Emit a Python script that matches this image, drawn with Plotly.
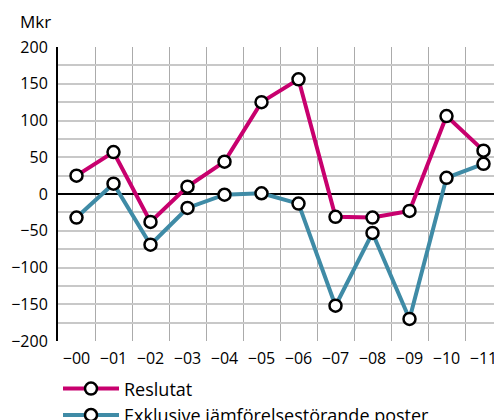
import plotly.graph_objects as go

categories = ["−00", "−01", "−02", "−03", "−04", "−05", "−06", "−07", "−08", "−09", "−10", "−11"]
reslutat = [25, 57, -38, 10, 44, 125, 156, -31, -32, -23, 106, 59]
exklusive = [-32, 14, -69, -19, -1, 1, -13, -152, -53, -170, 22, 41]
y_ticks = [-200, -150, -100, -50, 0, 50, 100, 150, 200]

W, H = 494, 420
L, R, T, B = 58, 0, 47, 79
FONT = "Open Sans"

xpos = list(range(len(categories)))
fig = go.Figure()
marker = dict(symbol="circle", size=12, color="white", line=dict(color="black", width=2.5))
fig.add_trace(go.Scatter(x=xpos, y=reslutat, mode="lines+markers", name="Reslutat",
                         line=dict(color="#C8006E", width=4), marker=marker))
fig.add_trace(go.Scatter(x=xpos, y=exklusive, mode="lines+markers", name="Exklusive jämförelsestörande poster",
                         line=dict(color="#3F8BA6", width=4), marker=marker))

cell = 37.0
plot_w = W - L - R
xmax = -0.5 + plot_w / cell

fig.update_layout(
    width=W, height=H,
    margin=dict(l=L, r=R, t=T, b=B, autoexpand=False),
    paper_bgcolor="white", plot_bgcolor="white",
    font=dict(family=FONT, size=16, color="black"),
    title=dict(text="Mkr", x=20 / W, xanchor="left", y=1 - 22 / H, yanchor="middle",
               font=dict(size=17, family=FONT, color="black")),
    showlegend=True,
    legend=dict(x=0.0, xanchor="left", y=-0.10, yanchor="top", orientation="v",
                itemwidth=56, font=dict(size=18, family=FONT), tracegroupgap=0,
                bgcolor="rgba(0,0,0,0)"),
    xaxis=dict(range=[-0.5, xmax], tickvals=xpos, ticktext=categories, showgrid=False,
               zeroline=False, showline=False, ticks="outside", ticklen=3,
               tickcolor="rgba(0,0,0,0)", tickfont=dict(size=16), ticklabeloverflow="allow",
               minor=dict(tickvals=[i - 0.5 for i in range(13)], showgrid=True,
                          gridcolor="#ababab", gridwidth=1, ticks="")),
    yaxis=dict(range=[-200, 200], tickvals=y_ticks, showgrid=True, gridcolor="#c8c8c8", gridwidth=2,
               zeroline=True, zerolinecolor="black", zerolinewidth=1.5,
               showline=True, linecolor="black", linewidth=2,
               ticks="outside", ticklen=5, tickcolor="rgba(0,0,0,0)", tickfont=dict(size=16),
               minor=dict(dtick=25, tick0=0, showgrid=True, gridcolor="#c8c8c8", gridwidth=2, ticks="")),
)
fig.write_html("out.html", config={"displayModeBar": False},
               post_script="document.body.style.margin='0';")
